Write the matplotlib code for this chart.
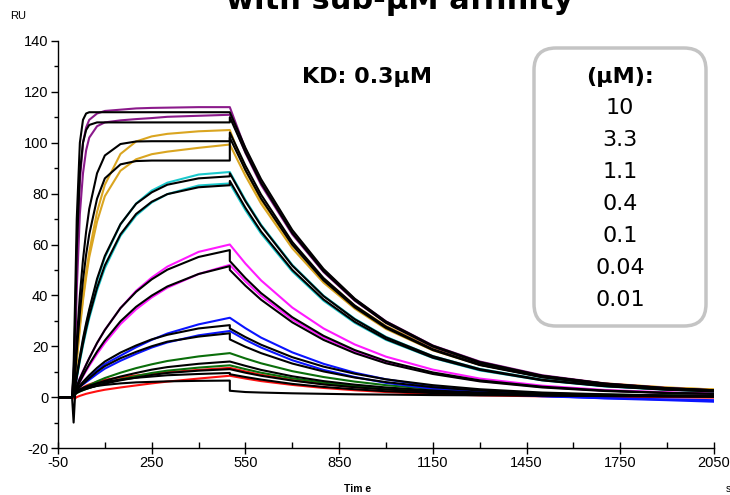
import matplotlib
matplotlib.use("Agg")
import matplotlib.pyplot as plt
from matplotlib.patches import FancyBboxPatch
from matplotlib.transforms import IdentityTransform
from matplotlib.ticker import MultipleLocator, FixedLocator

# ---------------- data ----------------
t_assoc = [-50, -5, 0, 5, 10, 20, 30, 40, 50, 75, 100, 150, 200, 250, 300, 400, 500]
t_dissoc = [500, 550, 600, 700, 800, 900, 1000, 1150, 1300, 1500, 1700, 1900, 2050]

purple1_assoc = [0, 0, 8, 25, 55, 85, 100, 106, 109, 111.5, 112.5, 113, 113.5, 113.7, 113.8, 114, 114]
purple1_dissoc = [114, 97.5, 84.5, 64.5, 50, 38.5, 29.8, 20.3, 14, 8.6, 5.4, 3.6, 2.7]
purple2_assoc = [0, 0, 5, 18, 42, 72, 88, 97, 102, 106.5, 108, 108.8, 109.3, 109.7, 110.2, 110.6, 111]
purple2_dissoc = [111, 96, 83.5, 64, 49.2, 37.9, 29.2, 19.8, 13.5, 8.3, 5.2, 3.4, 2.6]
fit1_assoc = [0, 0, 12, 40, 70, 100, 109, 111.5, 112, 112, 112, 112, 112, 112, 112, 112, 112]
fit1_dissoc = [112, 98.0, 85.7, 65.7, 50.4, 38.7, 29.7, 20.2, 13.8, 8.4, 5.3, 3.5, 2.7]
fit2_assoc = [0, 0, 9, 30, 58, 88, 100, 105, 107, 108, 108, 108, 108, 108, 108, 108, 108]
fit2_dissoc = [110, 96.3, 84.2, 64.5, 49.5, 38.1, 29.2, 19.9, 13.5, 8.3, 5.3, 3.5, 2.7]

orange1_assoc = [0, 0, 3, 7.9, 15.2, 28.3, 39.4, 48.9, 57.1, 72.8, 83.5, 95.6, 100.5, 102.5, 103.5, 104.5, 105]
orange1_dissoc = [105, 89, 77.5, 60, 46.5, 36, 28, 19.3, 13.3, 8.3, 5.4, 3.8, 3.0]
orange2_assoc = [0, 0, 3, 7, 14, 27, 38, 47, 55, 69, 79, 89, 93.5, 95.5, 96.5, 98, 99.3]
orange2_dissoc = [99.3, 87.0, 76.1, 58.5, 45.0, 34.8, 26.8, 18.4, 12.7, 8.1, 5.3, 3.7, 3.0]
fit3_assoc = [0, 0, 4, 11, 22, 40, 54, 65, 74, 88, 95, 99.5, 100.5, 100.6, 100.6, 100.6, 100.6]
fit3_dissoc = [104, 91.0, 79.6, 61.0, 46.8, 36.0, 27.7, 18.8, 12.8, 7.9, 5.0, 3.3, 2.6]
fit4_assoc = [0, 0, 3, 9, 18, 33, 46, 56, 64, 78, 86, 91.5, 92.8, 93, 93, 93, 93]
fit4_dissoc = [102, 89.3, 78.1, 59.9, 45.9, 35.3, 27.2, 18.5, 12.6, 7.8, 4.9, 3.3, 2.5]

cyan1_assoc = [0, 0, 2, 4.2, 8.1, 15.5, 22.2, 28.3, 33.8, 45.6, 54.9, 67.9, 76.1, 81.2, 84.3, 87.5, 88.5]
cyan1_dissoc = [88.5, 77.5, 67.8, 52.0, 39.9, 30.8, 23.7, 16.1, 11.1, 6.9, 4.4, 3.0, 2.3]
cyan2_assoc = [0, 0, 2, 3.8, 7.4, 14.1, 20.3, 25.8, 31.0, 42.0, 50.7, 63.4, 71.4, 76.5, 79.8, 83.2, 84]
cyan2_dissoc = [84, 73.5, 64.3, 49.4, 37.9, 29.2, 22.5, 15.4, 10.5, 6.6, 4.2, 2.9, 2.3]
fit5_assoc = [0, 0, 2, 4.5, 8.5, 16, 23, 29, 34.5, 46.5, 55.5, 68, 76, 80.5, 83.5, 86, 86.8]
fit5_dissoc = [88, 77.0, 67.4, 51.7, 39.7, 30.6, 23.5, 16.1, 11.0, 6.8, 4.4, 3.0, 2.3]
fit6_assoc = [0, 0, 2, 4, 7.8, 14.8, 21, 26.8, 32, 43, 51.8, 64, 72, 76.8, 79.8, 82.5, 83.3]
fit6_dissoc = [85, 74.4, 65.1, 50.0, 38.4, 29.6, 22.8, 15.5, 10.7, 6.6, 4.3, 2.9, 2.3]

magenta1_assoc = [0, 0, 1.5, 3, 4.5, 7.5, 10.2, 12.8, 15.3, 21.2, 26.4, 35.0, 41.8, 47.0, 51.3, 57.1, 60]
magenta1_dissoc = [60, 52.5, 45.9, 35.2, 27.0, 20.7, 15.9, 10.8, 7.3, 4.5, 2.8, 1.9, 1.4]
magenta2_assoc = [0, 0, 1.2, 2.5, 3.6, 6.0, 8.2, 10.3, 12.3, 17.0, 21.3, 28.7, 34.5, 39.2, 43.0, 48.4, 52]
magenta2_dissoc = [52, 45.5, 39.8, 30.5, 23.4, 18.0, 13.8, 9.4, 6.4, 4.0, 2.5, 1.7, 1.3]
fit7_assoc = [0, 0, 1.5, 2.8, 4.3, 7.3, 10.0, 12.7, 15.3, 21.3, 26.4, 35.0, 41.4, 46.3, 50.1, 55.1, 57.8]
fit7_dissoc = [53.5, 46.8, 40.9, 31.4, 24.1, 18.5, 14.2, 9.7, 6.6, 4.1, 2.6, 1.7, 1.3]
fit8_assoc = [0, 0, 1.2, 2.5, 3.7, 6.1, 8.5, 10.8, 12.9, 17.9, 22.3, 29.8, 35.5, 39.9, 43.5, 48.4, 51.5]
fit8_dissoc = [50, 43.8, 38.3, 29.4, 22.5, 17.3, 13.3, 9.1, 6.2, 3.8, 2.4, 1.6, 1.3]

blue1_assoc = [0, 0, 1.5, 2.5, 3.2, 4.5, 5.6, 6.7, 7.8, 10.5, 13, 16.3, 19.6, 22.5, 25, 28.6, 31.2]
blue1_dissoc = [31.2, 27.1, 23.4, 17.6, 13.1, 9.6, 7.0, 4.2, 2.3, 0.5, -0.5, -1.2, -1.8]
blue2_assoc = [0, 0, 1.3, 2.3, 3, 4.1, 5.0, 5.9, 6.8, 9.1, 11.2, 14.3, 17, 19.5, 21.5, 24.3, 26]
blue2_dissoc = [26, 22.5, 19.5, 14.5, 10.7, 7.9, 5.6, 3.3, 1.7, 0.3, -0.4, -0.9, -1.2]
fit9_assoc = [0, 0, 1.2, 2, 3.0, 4.6, 6.0, 7.3, 8.6, 11.5, 14, 17.5, 20.3, 22.7, 24.5, 27, 28.3]
fit9_dissoc = [27, 23.6, 20.6, 15.7, 12.0, 9.2, 7.0, 4.7, 3.1, 1.8, 1.1, 0.6, 0.4]
fit10_assoc = [0, 0, 1, 1.8, 2.6, 4, 5.2, 6.3, 7.4, 10, 12.2, 15.3, 17.8, 20, 21.8, 23.8, 25.1]
fit10_dissoc = [22.7, 19.8, 17.3, 13.2, 10.1, 7.7, 5.9, 3.9, 2.6, 1.5, 0.9, 0.5, 0.3]

green1_assoc = [0, 0, 0.8, 1.5, 2.0, 2.8, 3.5, 4.1, 4.7, 6.2, 7.5, 9.6, 11.4, 12.9, 14.2, 16.0, 17.3]
green1_dissoc = [17.3, 15.2, 13.3, 10.2, 7.9, 6.1, 4.7, 3.2, 2.3, 1.4, 1.0, 0.7, 0.6]
green2_assoc = [0, 0, 0.6, 1.2, 1.6, 2.2, 2.7, 3.2, 3.6, 4.6, 5.5, 7.0, 8.3, 9.5, 10.4, 11.6, 12.5]
green2_dissoc = [12.5, 11.0, 9.6, 7.4, 5.7, 4.4, 3.5, 2.4, 1.7, 1.1, 0.8, 0.6, 0.5]
fit11_assoc = [0, 0, 0.8, 1.5, 2.0, 2.8, 3.4, 3.9, 4.3, 5.4, 6.4, 8.1, 9.5, 10.8, 11.8, 13.1, 14]
fit11_dissoc = [14, 12.3, 10.7, 8.2, 6.3, 4.9, 3.8, 2.6, 1.8, 1.1, 0.7, 0.5, 0.4]
fit12_assoc = [0, 0, 0.7, 1.3, 1.7, 2.3, 2.8, 3.2, 3.6, 4.5, 5.3, 6.6, 7.7, 8.7, 9.5, 10.4, 11]
fit12_dissoc = [11, 9.6, 8.4, 6.5, 5.0, 3.9, 3.0, 2.1, 1.4, 0.9, 0.6, 0.4, 0.4]

red1_assoc = [0, 0, 0.5, 1.0, 1.8, 3.0, 3.8, 4.5, 5.0, 6.0, 6.8, 7.8, 8.5, 9.2, 9.8, 10.7, 11.5]
red1_dissoc = [11.5, 10.1, 8.8, 6.7, 5.1, 3.9, 3.0, 2.0, 1.3, 0.8, 0.4, 0.3, 0.2]
red2_assoc = [0, 0, -0.5, -0.5, 0, 0.5, 0.9, 1.3, 1.6, 2.3, 2.9, 3.8, 4.6, 5.4, 6.1, 7.3, 8.4]
red2_dissoc = [8.4, 7.3, 6.3, 4.8, 3.6, 2.7, 2.0, 1.2, 0.7, 0.3, 0.0, -0.1, -0.2]
fit13_assoc = [0, 0, 0.6, 1.2, 2, 3.0, 3.6, 4.1, 4.5, 5.3, 6.0, 6.9, 7.6, 8.1, 8.6, 9.1, 9.5]
fit13_dissoc = [9.0, 7.9, 6.9, 5.2, 4.0, 3.1, 2.3, 1.6, 1.0, 0.6, 0.4, 0.2, 0.1]
fit14_assoc = [0, 0, -10, 1.5, 2.2, 2.8, 3.2, 3.5, 3.8, 4.4, 4.8, 5.4, 5.8, 6.0, 6.2, 6.4, 6.5]
fit14_dissoc = [2.5, 2.0, 1.8, 1.5, 1.3, 1.1, 1.0, 0.8, 0.7, 0.6, 0.6, 0.5, 0.5]

concentrations = ["10", "3.3", "1.1", "0.4", "0.1", "0.04", "0.01"]
x_ticks = [-50, 250, 550, 850, 1150, 1450, 1750, 2050]
y_ticks = [-20, 0, 20, 40, 60, 80, 100, 120, 140]

# ---------------- styling ----------------
C_PURPLE = "#8B1A8B"
C_ORANGE = "#DAA520"
C_CYAN = "#1CC8CC"
C_MAGENTA = "#FF1AFF"
C_BLUE = "#0A14FF"
C_GREEN = "#0A6E0A"
C_RED = "#FF1010"

data_curves = [
    (red2_assoc, red2_dissoc, C_RED), (red1_assoc, red1_dissoc, C_RED),
    (green2_assoc, green2_dissoc, C_GREEN), (green1_assoc, green1_dissoc, C_GREEN),
    (blue2_assoc, blue2_dissoc, C_BLUE), (blue1_assoc, blue1_dissoc, C_BLUE),
    (magenta2_assoc, magenta2_dissoc, C_MAGENTA), (magenta1_assoc, magenta1_dissoc, C_MAGENTA),
    (cyan2_assoc, cyan2_dissoc, C_CYAN), (cyan1_assoc, cyan1_dissoc, C_CYAN),
    (orange2_assoc, orange2_dissoc, C_ORANGE), (orange1_assoc, orange1_dissoc, C_ORANGE),
    (purple2_assoc, purple2_dissoc, C_PURPLE), (purple1_assoc, purple1_dissoc, C_PURPLE),
]
fit_curves = [
    (fit14_assoc, fit14_dissoc), (fit13_assoc, fit13_dissoc),
    (fit12_assoc, fit12_dissoc), (fit11_assoc, fit11_dissoc),
    (fit10_assoc, fit10_dissoc), (fit9_assoc, fit9_dissoc),
    (fit8_assoc, fit8_dissoc), (fit7_assoc, fit7_dissoc),
    (fit6_assoc, fit6_dissoc), (fit5_assoc, fit5_dissoc),
    (fit4_assoc, fit4_dissoc), (fit3_assoc, fit3_dissoc),
    (fit2_assoc, fit2_dissoc), (fit1_assoc, fit1_dissoc),
]

plt.rcParams['font.family'] = ['Liberation Sans', 'DejaVu Sans']
plt.rcParams['axes.unicode_minus'] = False

W, H = 730, 495
fig = plt.figure(figsize=(W / 100, H / 100), dpi=100)
ax = fig.add_axes([58 / W, 1 - 448 / H, 656 / W, 407 / H])

t_all = t_assoc + t_dissoc
for a, d, c in data_curves:
    ax.plot(t_all, a + d, color=c, lw=1.5, solid_joinstyle='round')
for a, d in fit_curves:
    ax.plot(t_all, a + d, color='black', lw=1.5, solid_joinstyle='round')

ax.set_xlim(-50, 2050)
ax.set_ylim(-20, 140)
ax.spines['top'].set_visible(False)
ax.spines['right'].set_visible(False)
ax.spines['left'].set_linewidth(1.0)
ax.spines['bottom'].set_linewidth(1.0)
ax.set_xticks(x_ticks)
ax.set_yticks(y_ticks)
ax.xaxis.set_minor_locator(FixedLocator([100, 400, 700, 1000, 1300, 1600, 1900]))
ax.yaxis.set_minor_locator(MultipleLocator(10))
ax.tick_params(axis='x', which='major', direction='inout', length=8, width=1, labelsize=10.5, pad=2)
ax.tick_params(axis='x', which='minor', direction='in', length=4, width=1)
ax.tick_params(axis='y', which='major', direction='out', length=5, width=1, labelsize=10.5, pad=2)
ax.tick_params(axis='y', which='minor', direction='out', length=3, width=1)

# axis labels
fig.text(10 / W, 1 - 16 / H, "RU", fontsize=8, ha='left', va='center')
fig.text(358 / W, 1 - 489 / H, "Tim e", fontsize=7.5, fontweight='bold', ha='center', va='center')
fig.text(726 / W, 1 - 489 / H, "s", fontsize=7.5, ha='left', va='center')

# title, cut off by the top edge as in the reference
fig.text(400 / W, 1 - 9 / H, "with sub-\u03bcM affinity", fontsize=22, fontweight='bold',
         family='DejaVu Sans', ha='center', va='baseline')

# KD annotation
fig.text(367 / W, 1 - 77 / H, "KD: 0.3\u03bcM", fontsize=16, fontweight='bold',
         family='DejaVu Sans', ha='center', va='center')

# concentration box
box = FancyBboxPatch((534, H - 326), 172, 278, boxstyle="round,pad=0,rounding_size=22",
                     transform=IdentityTransform(), facecolor='white',
                     edgecolor='#C4C4C4', linewidth=2.5)
fig.add_artist(box)
fig.text(620 / W, 1 - 77 / H, "(\u03bcM):", fontsize=16, fontweight='bold',
         family='DejaVu Sans', ha='center', va='center')
for i, c in enumerate(concentrations):
    fig.text(620 / W, 1 - (108 + 32 * i) / H, c, fontsize=16,
             family='DejaVu Sans', ha='center', va='center')

fig.savefig("out.png", dpi=100)
